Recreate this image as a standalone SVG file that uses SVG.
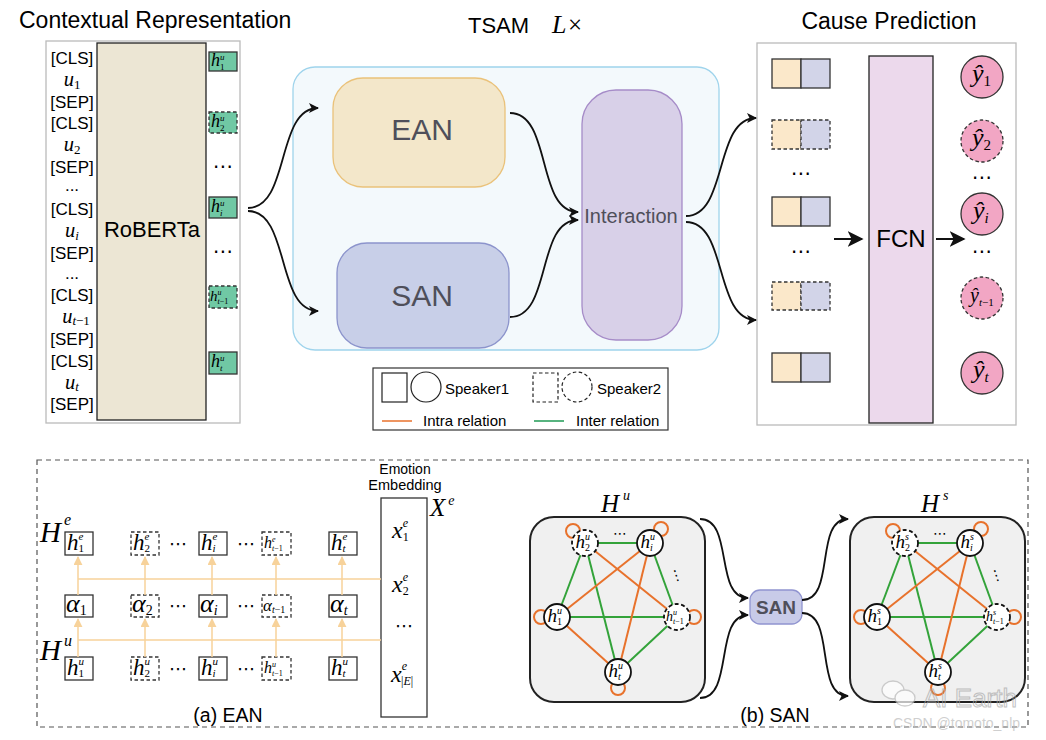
<svg xmlns="http://www.w3.org/2000/svg" width="1046" height="740" viewBox="0 0 1046 740">
<defs>
<style>
.s{font-family:"Liberation Sans",Arial,sans-serif;fill:#000}
.m{font-family:"Liberation Serif","Times New Roman",serif;font-style:italic;fill:#000}
.r{font-family:"Liberation Serif","Times New Roman",serif;font-style:normal;fill:#000}
.d{font-family:"DejaVu Sans",sans-serif;fill:#000}
.bx{stroke:#333;stroke-width:1.3}
.dash{stroke-dasharray:3.5 2.5}
.con{fill:none;stroke:#111;stroke-width:1.8}
.oa{stroke:#f7d29a;stroke-width:1.5;fill:none}
.intra{stroke:#e8722c;stroke-width:2;fill:none}
.inter{stroke:#33a33a;stroke-width:2;fill:none}
.grn{fill:#70c8a4}
.bei{fill:#fbe8ca}
.lav{fill:#d2d4e8}
.pk{fill:#f2a6c4}
.node{fill:#fff;stroke:#111;stroke-width:1.8}
.lbl{fill:#4f4f5a}
</style>
<marker id="ah" viewBox="0 0 10 10" refX="9" refY="5" markerWidth="10" markerHeight="10" markerUnits="userSpaceOnUse" orient="auto">
<path d="M0,0 L10,5 L0,10 L2.5,5 z" fill="#111"/>
</marker>
<marker id="ahb" viewBox="0 0 10 10" refX="9" refY="5" markerWidth="16" markerHeight="16" markerUnits="userSpaceOnUse" orient="auto">
<path d="M0,0 L10,5 L0,10 L2.5,5 z" fill="#111"/>
</marker>
<marker id="aho" viewBox="0 0 10 10" refX="9" refY="5" markerWidth="9" markerHeight="9" markerUnits="userSpaceOnUse" orient="auto">
<path d="M0,0 L10,5 L0,10 z" fill="#f7d29a"/>
</marker>
</defs>
<rect width="1046" height="740" fill="#fff"/>

<!-- Titles -->
<text class="s" x="19" y="28" font-size="23">Contextual Representation</text>
<text class="s" x="468" y="33" font-size="22">TSAM</text>
<text class="m" x="552" y="33" font-size="26">L</text>
<text class="r" x="568" y="33" font-size="25">×</text>
<text class="s" x="889" y="29" font-size="23" text-anchor="middle">Cause Prediction</text>

<!-- Contextual representation -->
<g id="contextual">
<rect x="46" y="41" width="194" height="382" fill="#fff" stroke="#bbb" stroke-width="1.3"/>
<g class="s" font-size="17" text-anchor="middle">
<text x="72" y="64">[CLS]</text>
<text x="72" y="108">[SEP]</text>
<text x="72" y="129">[CLS]</text>
<text x="72" y="173">[SEP]</text>
<text x="72" y="191">...</text>
<text x="72" y="215">[CLS]</text>
<text x="72" y="259">[SEP]</text>
<text x="72" y="279">...</text>
<text x="72" y="301">[CLS]</text>
<text x="72" y="345">[SEP]</text>
<text x="72" y="367">[CLS]</text>
<text x="72" y="410">[SEP]</text>
</g>
<text class="m" x="72" y="86" font-size="20.5" text-anchor="middle">u<tspan class="r" font-size="13" dy="3">1</tspan></text>
<text class="m" x="72" y="151" font-size="20.5" text-anchor="middle">u<tspan class="r" font-size="13" dy="3">2</tspan></text>
<text class="m" x="72" y="237" font-size="20.5" text-anchor="middle">u<tspan font-size="13" dy="3">i</tspan></text>
<text class="m" x="76" y="323" font-size="20.5" text-anchor="middle">u<tspan font-size="13" dy="2">t</tspan><tspan class="r" font-size="13">−1</tspan></text>
<text class="m" x="72" y="389" font-size="20.5" text-anchor="middle">u<tspan font-size="13" dy="2">t</tspan></text>
</g>

<g id="roberta">
<rect x="97" y="43" width="109" height="377" fill="#ece6d4" stroke="#222" stroke-width="1.3"/>
<text class="s" x="152" y="237" font-size="22" text-anchor="middle">RoBERTa</text>
</g>

<g id="hu-column">
<rect class="grn bx" x="209" y="52" width="28" height="19"/>
<text class="m" x="211" y="66" font-size="18">h<tspan font-size="9" dy="-6.5">u</tspan><tspan class="r" font-size="9" dx="-4.5" dy="10">1</tspan></text>
<rect class="grn bx dash" x="209" y="112" width="28" height="21"/>
<text class="m" x="211" y="127" font-size="18">h<tspan font-size="9" dy="-6.5">u</tspan><tspan class="r" font-size="9" dx="-4.5" dy="10">2</tspan></text>
<text class="d" x="223" y="173" font-size="20" text-anchor="middle">⋯</text>
<rect class="grn bx" x="209" y="197" width="28" height="21"/>
<text class="m" x="211" y="212" font-size="18">h<tspan font-size="9" dy="-6.5">u</tspan><tspan font-size="9" dx="-4.5" dy="10">i</tspan></text>
<text class="d" x="223" y="258" font-size="20" text-anchor="middle">⋯</text>
<rect class="grn bx dash" x="209" y="286" width="28" height="22"/>
<text class="m" x="210" y="301" font-size="15">h<tspan font-size="8" dy="-6">u</tspan><tspan font-size="8" dx="-4" dy="9">t<tspan class="r">−1</tspan></tspan></text>
<rect class="grn bx" x="209" y="352" width="28" height="22"/>
<text class="m" x="211" y="367" font-size="18">h<tspan font-size="9" dy="-6.5">u</tspan><tspan font-size="9" dx="-4.5" dy="10">t</tspan></text>
</g>

<!-- TSAM -->
<g id="tsam">
<rect x="293" y="67" width="426" height="283" rx="22" fill="#f3f9fc" stroke="#9fd4ec" stroke-width="1.3"/>
</g>
<g id="ean">
<rect x="333" y="78" width="172" height="109" rx="30" fill="#f3e7ca" stroke="#eac27a" stroke-width="1.3"/>
<text class="s lbl" x="422" y="140" font-size="30" text-anchor="middle">EAN</text>
</g>
<g id="san">
<rect x="337" y="243" width="172" height="105" rx="30" fill="#c8cfe8" stroke="#8c94cc" stroke-width="1.3"/>
<text class="s lbl" x="422" y="306" font-size="30" text-anchor="middle">SAN</text>
</g>
<g id="interaction">
<rect x="582" y="90" width="100" height="250" rx="34" fill="#d8d0e8" stroke="#a68cc8" stroke-width="1.3"/>
<text class="s lbl" x="631" y="223" font-size="20" text-anchor="middle">Interaction</text>
</g>

<!-- Cause prediction -->
<g id="cause">
<rect x="757" y="43" width="259" height="382" fill="#fff" stroke="#bbb" stroke-width="1.3"/>
</g>
<g id="pairs">
<rect class="bei bx" x="772" y="59" width="29" height="29"/><rect class="lav bx" x="801" y="59" width="29" height="29"/>
<rect class="bei bx dash" x="772" y="120" width="29" height="29"/><rect class="lav bx dash" x="801" y="120" width="29" height="29"/>
<text class="d" x="801" y="180" font-size="20" text-anchor="middle">⋯</text>
<rect class="bei bx" x="772" y="197" width="29" height="29"/><rect class="lav bx" x="801" y="197" width="29" height="29"/>
<text class="d" x="801" y="258" font-size="20" text-anchor="middle">⋯</text>
<rect class="bei bx dash" x="772" y="282" width="29" height="28"/><rect class="lav bx dash" x="801" y="282" width="29" height="28"/>
<rect class="bei bx" x="772" y="353" width="29" height="29"/><rect class="lav bx" x="801" y="353" width="29" height="29"/>
</g>
<g id="fcn">
<rect x="869" y="56" width="64" height="367" fill="#ecd9ec" stroke="#222" stroke-width="1.3"/>
<text class="s" x="901" y="247" font-size="24" text-anchor="middle">FCN</text>
</g>
<g id="outputs">
<circle class="pk bx" cx="982" cy="77" r="21"/>
<text class="m" x="972" y="82" font-size="26">ŷ<tspan class="r" font-size="15" dy="4">1</tspan></text>
<circle class="pk bx dash" cx="982" cy="141" r="21"/>
<text class="m" x="972" y="146" font-size="26">ŷ<tspan class="r" font-size="15" dy="4">2</tspan></text>
<text class="d" x="982" y="184" font-size="20" text-anchor="middle">⋯</text>
<circle class="pk bx" cx="982" cy="214" r="21"/>
<text class="m" x="973" y="219" font-size="26">ŷ<tspan font-size="15" dy="4">i</tspan></text>
<text class="d" x="982" y="258" font-size="20" text-anchor="middle">⋯</text>
<circle class="pk bx dash" cx="982" cy="298" r="21"/>
<text class="m" x="970" y="302" font-size="20">ŷ<tspan font-size="11" dy="4">t<tspan class="r">−1</tspan></tspan></text>
<circle class="pk bx" cx="982" cy="373" r="21"/>
<text class="m" x="973" y="378" font-size="26">ŷ<tspan font-size="15" dy="4">t</tspan></text>
</g>

<!-- Legend -->
<g id="legend">
<rect x="373" y="368" width="295" height="62" fill="#fff" stroke="#333" stroke-width="1.2"/>
<rect x="382" y="373" width="25" height="29" fill="none" stroke="#222" stroke-width="1.2"/>
<circle cx="426" cy="387" r="15" fill="none" stroke="#222" stroke-width="1.2"/>
<text class="s" x="445" y="394" font-size="15">Speaker1</text>
<rect x="533" y="373" width="25" height="29" fill="none" stroke="#222" stroke-width="1.2" stroke-dasharray="3.5 2.5"/>
<circle cx="577" cy="387" r="15" fill="none" stroke="#222" stroke-width="1.2" stroke-dasharray="3.5 2.5"/>
<text class="s" x="597" y="394" font-size="15">Speaker2</text>
<line x1="382" y1="421" x2="412" y2="421" stroke="#e8722c" stroke-width="1.5"/>
<text class="s" x="423" y="426" font-size="15">Intra relation</text>
<line x1="534" y1="421" x2="564" y2="421" stroke="#1f9a55" stroke-width="1.5"/>
<text class="s" x="576" y="426" font-size="15">Inter relation</text>
</g>

<!-- Bottom panel -->
<g id="bottom-frame">
<rect x="37" y="460" width="991" height="267" fill="none" stroke="#555" stroke-width="1.2" stroke-dasharray="5 4"/>
<text class="s" x="228" y="722" font-size="19.5" text-anchor="middle">(a) EAN</text>
<text class="s" x="775" y="722" font-size="19.5" text-anchor="middle">(b) SAN</text>
</g>

<g id="ean-detail">
<text class="m" x="40" y="542" font-size="29">H<tspan font-size="16" dx="3" dy="-17">e</tspan></text>
<text class="m" x="40" y="660" font-size="29">H<tspan font-size="16" dx="3" dy="-14">u</tspan></text>
<!-- He row -->
<rect class="bx" fill="#fff" x="65" y="532" width="28" height="23"/>
<text class="m" x="67" y="550" font-size="23">h<tspan font-size="11" dy="-10">e</tspan><tspan class="r" font-size="11" dx="-4.9" dy="12.3">1</tspan></text>
<rect class="bx dash" fill="#fff" x="131" y="532" width="28" height="23"/>
<text class="m" x="133" y="550" font-size="23">h<tspan font-size="11" dy="-10">e</tspan><tspan class="r" font-size="11" dx="-4.9" dy="12.3">2</tspan></text>
<text class="d" x="178" y="550" font-size="18" text-anchor="middle">⋯</text>
<rect class="bx" fill="#fff" x="199" y="532" width="28" height="23"/>
<text class="m" x="201" y="550" font-size="23">h<tspan font-size="11" dy="-10">e</tspan><tspan font-size="11" dx="-4.9" dy="12.3">i</tspan></text>
<text class="d" x="246" y="550" font-size="18" text-anchor="middle">⋯</text>
<rect class="bx dash" fill="#fff" x="262" y="532" width="29" height="23"/>
<text class="m" x="264" y="548" font-size="16">h<tspan font-size="8" dy="-6">e</tspan><tspan font-size="8" dx="-3.6" dy="9">t<tspan class="r">−1</tspan></tspan></text>
<rect class="bx" fill="#fff" x="329" y="532" width="28" height="23"/>
<text class="m" x="331" y="550" font-size="23">h<tspan font-size="11" dy="-10">e</tspan><tspan font-size="11" dx="-4.9" dy="12.3">t</tspan></text>
<!-- alpha row -->
<rect class="bx" fill="#fff" x="65" y="595" width="28" height="22"/>
<text class="m" x="66" y="612" font-size="26">α<tspan class="r" font-size="14" dy="3">1</tspan></text>
<rect class="bx dash" fill="#fff" x="131" y="595" width="28" height="22"/>
<text class="m" x="132" y="612" font-size="26">α<tspan class="r" font-size="14" dy="3">2</tspan></text>
<text class="d" x="178" y="612" font-size="18" text-anchor="middle">⋯</text>
<rect class="bx" fill="#fff" x="199" y="595" width="28" height="22"/>
<text class="m" x="200" y="612" font-size="26">α<tspan font-size="14" dy="3">i</tspan></text>
<text class="d" x="246" y="612" font-size="18" text-anchor="middle">⋯</text>
<rect class="bx dash" fill="#fff" x="262" y="595" width="29" height="22"/>
<text class="m" x="263" y="611" font-size="17">α<tspan font-size="10" dy="2">t<tspan class="r">−1</tspan></tspan></text>
<rect class="bx" fill="#fff" x="329" y="595" width="28" height="22"/>
<text class="m" x="330" y="612" font-size="26">α<tspan font-size="14" dy="3">t</tspan></text>
<!-- Hu row -->
<rect class="bx" fill="#fff" x="65" y="657" width="28" height="23"/>
<text class="m" x="67" y="675" font-size="23">h<tspan font-size="11" dy="-10">u</tspan><tspan class="r" font-size="11" dx="-5.5" dy="12.3">1</tspan></text>
<rect class="bx dash" fill="#fff" x="131" y="657" width="28" height="23"/>
<text class="m" x="133" y="675" font-size="23">h<tspan font-size="11" dy="-10">u</tspan><tspan class="r" font-size="11" dx="-5.5" dy="12.3">2</tspan></text>
<text class="d" x="178" y="675" font-size="18" text-anchor="middle">⋯</text>
<rect class="bx" fill="#fff" x="199" y="657" width="28" height="23"/>
<text class="m" x="201" y="675" font-size="23">h<tspan font-size="11" dy="-10">u</tspan><tspan font-size="11" dx="-5.5" dy="12.3">i</tspan></text>
<text class="d" x="246" y="675" font-size="18" text-anchor="middle">⋯</text>
<rect class="bx dash" fill="#fff" x="262" y="657" width="29" height="23"/>
<text class="m" x="264" y="673" font-size="16">h<tspan font-size="8" dy="-6">u</tspan><tspan font-size="8" dx="-4" dy="9">t<tspan class="r">−1</tspan></tspan></text>
<rect class="bx" fill="#fff" x="329" y="657" width="28" height="23"/>
<text class="m" x="331" y="675" font-size="23">h<tspan font-size="11" dy="-10">u</tspan><tspan font-size="11" dx="-5.5" dy="12.3">t</tspan></text>
</g>

<g id="emotion-embedding">
<text class="s" x="405" y="474" font-size="14" text-anchor="middle">Emotion</text>
<text class="s" x="405" y="490" font-size="14.5" text-anchor="middle">Embedding</text>
<rect x="381" y="498" width="46" height="219" fill="#fff" stroke="#333" stroke-width="1.3"/>
<text class="m" x="430" y="516" font-size="25">X<tspan font-size="14" dx="3" dy="-11">e</tspan></text>
<text class="m" x="392" y="538" font-size="24">x<tspan font-size="12" dy="-11">e</tspan><tspan class="r" font-size="12" dx="-5.3" dy="13.5">1</tspan></text>
<text class="m" x="392" y="592" font-size="24">x<tspan font-size="12" dy="-11">e</tspan><tspan class="r" font-size="12" dx="-5.3" dy="13.5">2</tspan></text>
<text class="d" x="404" y="632" font-size="18" text-anchor="middle">⋯</text>
<text class="m" x="391" y="682" font-size="24">x<tspan font-size="12" dy="-12">e</tspan><tspan class="r" font-size="12" dx="-6" dy="15">|<tspan class="m">E</tspan>|</tspan></text>
</g>

<g id="ean-connectors">
<line class="oa" x1="78" y1="579" x2="381" y2="579"/>
<line class="oa" x1="78" y1="640" x2="381" y2="640"/>
<line class="oa" x1="78" y1="595" x2="78" y2="557" marker-end="url(#aho)"/>
<line class="oa" x1="145" y1="595" x2="145" y2="557" marker-end="url(#aho)"/>
<line class="oa" x1="212" y1="595" x2="212" y2="557" marker-end="url(#aho)"/>
<line class="oa" x1="276" y1="595" x2="276" y2="557" marker-end="url(#aho)"/>
<line class="oa" x1="342" y1="595" x2="342" y2="557" marker-end="url(#aho)"/>
<line class="oa" x1="78" y1="657" x2="78" y2="619" marker-end="url(#aho)"/>
<line class="oa" x1="145" y1="657" x2="145" y2="619" marker-end="url(#aho)"/>
<line class="oa" x1="212" y1="657" x2="212" y2="619" marker-end="url(#aho)"/>
<line class="oa" x1="276" y1="657" x2="276" y2="619" marker-end="url(#aho)"/>
<line class="oa" x1="342" y1="657" x2="342" y2="619" marker-end="url(#aho)"/>
</g>

<!-- SAN graphs -->
<g id="graph-hu">
<text class="m" x="601" y="512" font-size="25">H<tspan font-size="14" dx="4" dy="-12">u</tspan></text>
<rect x="530" y="517" width="175" height="185" rx="24" fill="#f0f0f0" stroke="#222" stroke-width="2"/>
<line class="inter" x1="585" y1="543" x2="650" y2="543"/>
<line class="inter" x1="585" y1="543" x2="557" y2="617"/>
<line class="inter" x1="585" y1="543" x2="618" y2="672"/>
<line class="inter" x1="650" y1="543" x2="677" y2="617"/>
<line class="inter" x1="557" y1="617" x2="677" y2="617"/>
<line class="inter" x1="677" y1="617" x2="618" y2="672"/>
<line class="intra" x1="650" y1="543" x2="557" y2="617"/>
<line class="intra" x1="650" y1="543" x2="618" y2="672"/>
<line class="intra" x1="585" y1="543" x2="677" y2="617"/>
<line class="intra" x1="557" y1="617" x2="618" y2="672"/>
<circle class="intra" cx="573" cy="531" r="7"/>
<circle class="intra" cx="661" cy="529" r="7"/>
<circle class="intra" cx="541" cy="617" r="7"/>
<circle class="intra" cx="694" cy="617" r="7"/>
<circle class="intra" cx="618" cy="688" r="7"/>
<circle class="node" cx="585" cy="543" r="13" stroke-dasharray="4 2.5"/>
<circle class="node" cx="650" cy="543" r="13"/>
<circle class="node" cx="557" cy="617" r="13"/>
<circle class="node" cx="677" cy="617" r="13" stroke-dasharray="4 2.5"/>
<circle class="node" cx="618" cy="672" r="13"/>
<text class="m" x="575.5" y="548" font-size="19">h<tspan font-size="10" dy="-8">u</tspan><tspan class="r" font-size="10" dx="-5" dy="11.2">2</tspan></text>
<text class="m" x="640.5" y="548" font-size="19">h<tspan font-size="10" dy="-8">u</tspan><tspan font-size="10" dx="-5" dy="11.2">i</tspan></text>
<text class="m" x="547.5" y="622" font-size="19">h<tspan font-size="10" dy="-8">u</tspan><tspan class="r" font-size="10" dx="-5" dy="11.2">1</tspan></text>
<text class="m" x="666" y="621" font-size="14">h<tspan font-size="8" dy="-6">u</tspan><tspan font-size="8" dx="-4" dy="9">t<tspan class="r">−1</tspan></tspan></text>
<text class="m" x="608.5" y="677" font-size="19">h<tspan font-size="10" dy="-8">u</tspan><tspan font-size="10" dx="-5" dy="11.2">t</tspan></text>
<text class="d" x="620" y="538" font-size="14" text-anchor="middle">⋯</text>
<text class="d" x="676" y="580" font-size="14" text-anchor="middle" transform="rotate(-18 676 575)">⋮</text>
</g>

<g id="san-mini">
<rect x="750" y="590" width="52" height="34" rx="10" fill="#c8cbe8" stroke="#9094d0" stroke-width="1.3"/>
<text class="s lbl" x="776" y="614" font-size="19" font-weight="bold" text-anchor="middle">SAN</text>
</g>

<g id="graph-hs">
<text class="m" x="921" y="512" font-size="25">H<tspan font-size="14" dx="4" dy="-12">s</tspan></text>
<rect x="850" y="517" width="175" height="185" rx="24" fill="#f0f0f0" stroke="#222" stroke-width="2"/>
<line class="inter" x1="905" y1="543" x2="970" y2="543"/>
<line class="inter" x1="905" y1="543" x2="877" y2="617"/>
<line class="inter" x1="905" y1="543" x2="938" y2="672"/>
<line class="inter" x1="970" y1="543" x2="997" y2="617"/>
<line class="inter" x1="877" y1="617" x2="997" y2="617"/>
<line class="inter" x1="997" y1="617" x2="938" y2="672"/>
<line class="intra" x1="970" y1="543" x2="877" y2="617"/>
<line class="intra" x1="970" y1="543" x2="938" y2="672"/>
<line class="intra" x1="905" y1="543" x2="997" y2="617"/>
<line class="intra" x1="877" y1="617" x2="938" y2="672"/>
<circle class="intra" cx="893" cy="531" r="7"/>
<circle class="intra" cx="981" cy="529" r="7"/>
<circle class="intra" cx="861" cy="617" r="7"/>
<circle class="intra" cx="1014" cy="617" r="7"/>
<circle class="intra" cx="938" cy="688" r="7"/>
<circle class="node" cx="905" cy="543" r="13" stroke-dasharray="4 2.5"/>
<circle class="node" cx="970" cy="543" r="13"/>
<circle class="node" cx="877" cy="617" r="13"/>
<circle class="node" cx="997" cy="617" r="13" stroke-dasharray="4 2.5"/>
<circle class="node" cx="938" cy="672" r="13"/>
<text class="m" x="895.5" y="548" font-size="19">h<tspan font-size="10" dy="-8">s</tspan><tspan class="r" font-size="10" dx="-3.9" dy="11.2">2</tspan></text>
<text class="m" x="960.5" y="548" font-size="19">h<tspan font-size="10" dy="-8">s</tspan><tspan font-size="10" dx="-3.9" dy="11.2">i</tspan></text>
<text class="m" x="867.5" y="622" font-size="19">h<tspan font-size="10" dy="-8">s</tspan><tspan class="r" font-size="10" dx="-3.9" dy="11.2">1</tspan></text>
<text class="m" x="986" y="621" font-size="14">h<tspan font-size="8" dy="-6">s</tspan><tspan font-size="8" dx="-3.1" dy="9">t<tspan class="r">−1</tspan></tspan></text>
<text class="m" x="928.5" y="677" font-size="19">h<tspan font-size="10" dy="-8">s</tspan><tspan font-size="10" dx="-3.9" dy="11.2">t</tspan></text>
<text class="d" x="940" y="538" font-size="14" text-anchor="middle">⋯</text>
<text class="d" x="996" y="580" font-size="14" text-anchor="middle" transform="rotate(-18 996 575)">⋮</text>
</g>

<!-- Connectors -->
<g id="connectors">
<path class="con" d="M248,208 C290,208 276,108 318,108" marker-end="url(#ah)"/>
<path class="con" d="M248,211 C290,211 276,311 318,311" marker-end="url(#ah)"/>
<path class="con" d="M510,113 C552,113 536,212 578,212" marker-end="url(#ah)"/>
<path class="con" d="M510,317 C552,317 536,220 578,220" marker-end="url(#ah)"/>
<path class="con" d="M686,216 C728,216 714,118 756,118" marker-end="url(#ah)"/>
<path class="con" d="M686,222 C728,222 714,320 756,320" marker-end="url(#ah)"/>
<line x1="834" y1="239" x2="862" y2="239" stroke="#111" stroke-width="2" marker-end="url(#ahb)"/>
<line x1="936" y1="239" x2="964" y2="239" stroke="#111" stroke-width="2" marker-end="url(#ahb)"/>
<path class="con" d="M700,519 C734,519 714,598 748,598" marker-end="url(#ah)"/>
<path class="con" d="M700,698 C734,698 714,615 748,615" marker-end="url(#ah)"/>
<path class="con" d="M802,600 C836,600 814,519 848,519" marker-end="url(#ah)"/>
<path class="con" d="M802,613 C836,613 814,696 848,696" marker-end="url(#ah)"/>
</g>

<!-- Watermark -->
<g id="watermark" opacity="0.7">
<ellipse cx="893" cy="690" rx="11" ry="9" fill="#fff" stroke="#bbb" stroke-width="1.3"/>
<ellipse cx="905" cy="698" rx="10" ry="8" fill="#fff" stroke="#bbb" stroke-width="1.3"/>
<text class="s" x="923" y="707" font-size="26" stroke="#aaa" stroke-width="1" style="fill:none">AI Earth</text>
<text class="s" x="893" y="728" font-size="14" style="fill:#bbb">CSDN @tomoto_nlp</text>
</g>
</svg>
